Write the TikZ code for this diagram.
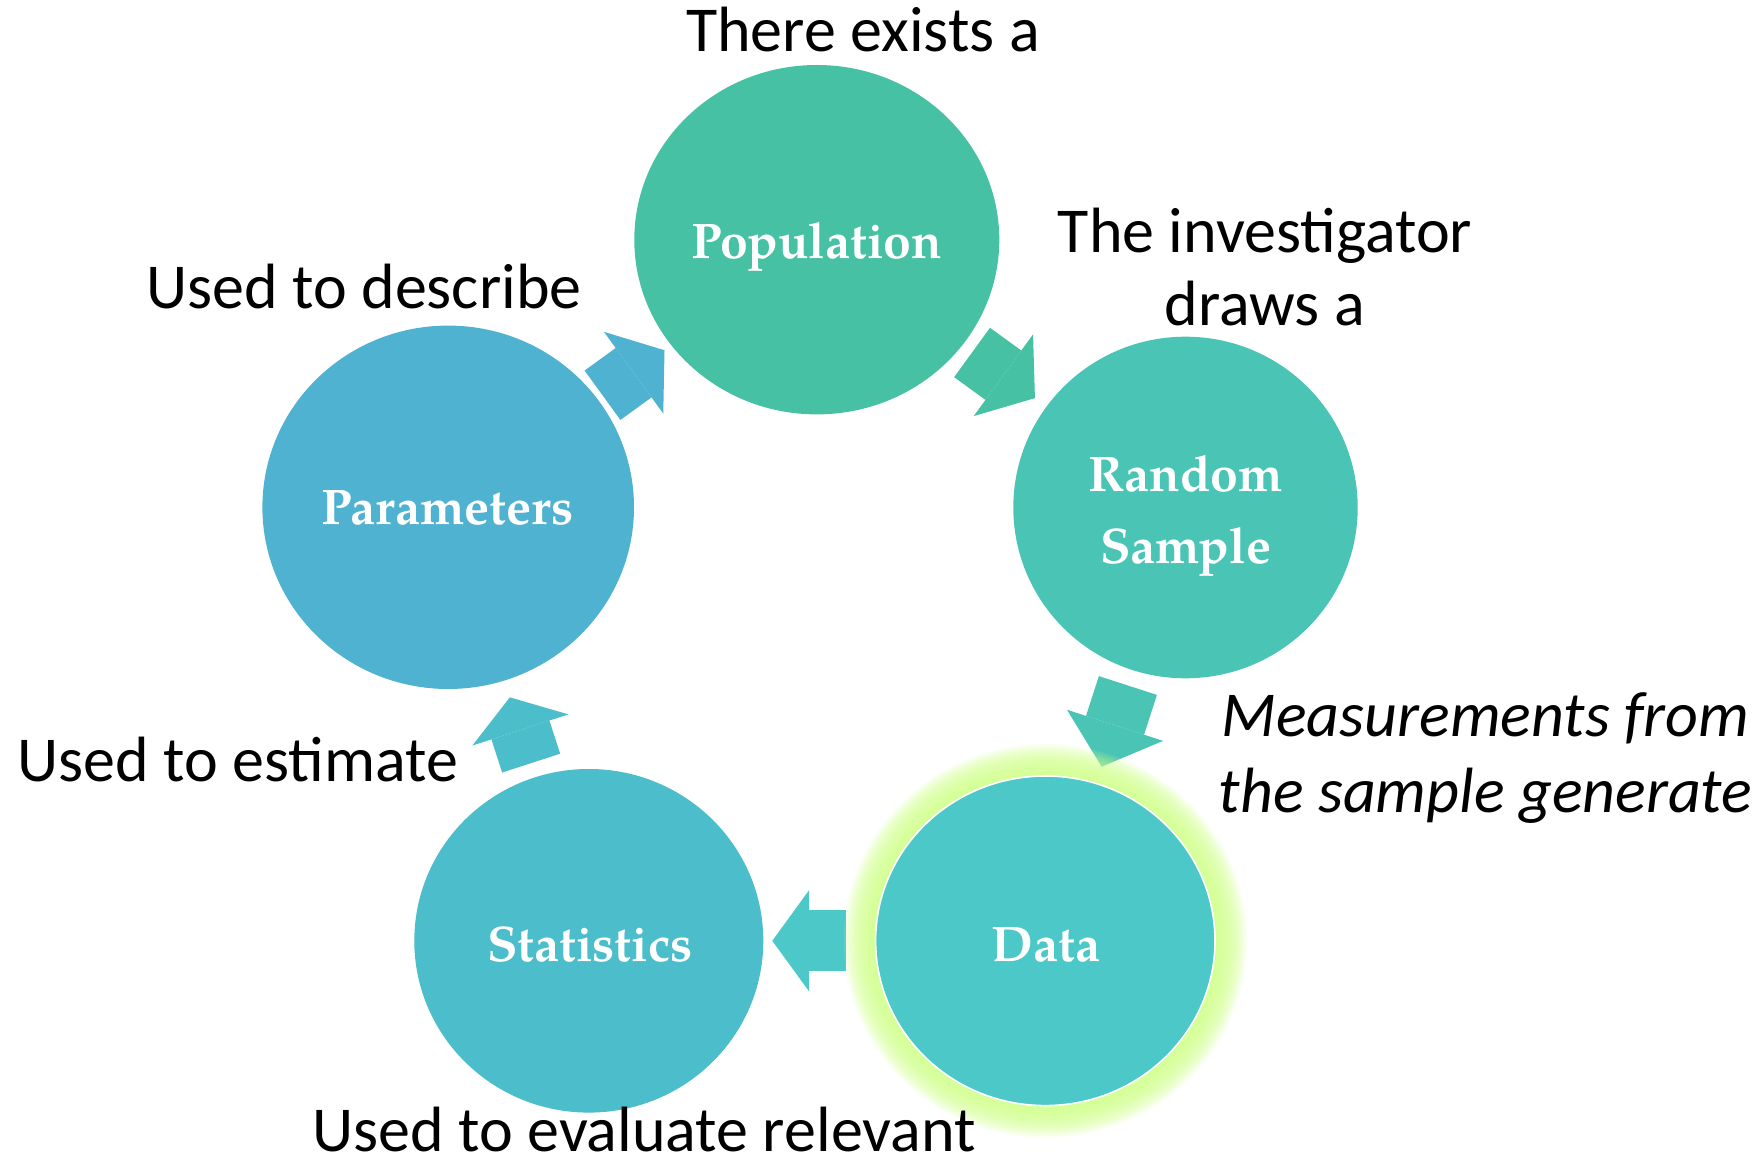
\documentclass[tikz,border=0pt]{standalone}
\usepackage{fontspec}
\setmainfont{Carlito}
\newfontfamily\pal{texgyrepagella}[Extension=.otf,UprightFont=*-regular,BoldFont=*-bold,ItalicFont=*-italic,BoldItalicFont=*-bolditalic]
\usetikzlibrary{shapes.geometric,arrows.meta}
\pgfdeclarelayer{bglayer}
\pgfdeclarelayer{arrowlayer}
\pgfdeclarelayer{glowlayer}
\pgfsetlayers{bglayer,arrowlayer,glowlayer,main}
\definecolor{popc}{RGB}{71,193,163}
\definecolor{rsc}{RGB}{73,196,181}
\definecolor{datac}{RGB}{75,200,199}
\definecolor{statc}{RGB}{76,189,202}
\definecolor{parc}{RGB}{79,178,208}
\definecolor{glowc}{RGB}{212,255,140}
\begin{document}
\begin{tikzpicture}[x=0.5pt,y=-0.5pt,
  bubble/.style={ellipse, inner sep=0pt, outer sep=0pt},
  inlabel/.style={anchor=base, text=white, inner sep=0pt, font=\pal\bfseries\fontsize{25}{30}\selectfont},
  outlabel/.style={anchor=base, text=black, inner sep=0pt, font=\fontsize{32}{38}\selectfont},
  italabel/.style={outlabel, font=\itshape\fontsize{32}{38}\selectfont},
  blk/.style n args={4}{draw=#1, line width=30.5pt, -{Triangle[length=#2,width=50.5pt,line width=0pt]}, shorten <=#3, shorten >=#4}
]
\useasboundingbox (0,0) rectangle (1763,1160);
\begin{pgfonlayer}{bglayer}
\fill[white] (0,0) rectangle (1763,1160);
\end{pgfonlayer}

% circles
\node[bubble, fill=popc, minimum width=182.5pt, minimum height=174.7pt] (pop) at (816.8,239.7) {};
\node[bubble, fill=rsc, minimum width=172.2pt, minimum height=170.8pt] (rs) at (1185.5,507.5) {};
\node[bubble, fill=parc, minimum width=185.8pt, minimum height=181.7pt] (par) at (448.2,507.3) {};
\node[bubble, fill=statc, minimum width=174.5pt, minimum height=171.8pt] (stat) at (588.8,940.8) {};
\node[bubble, fill=datac, draw=white, line width=0.8pt, minimum width=169.7pt, minimum height=164.8pt] (dat) at (1045.3,940.8) {};

% block arrows
\begin{pgfonlayer}{arrowlayer}
\draw[blk={popc}{19.5pt}{95.95pt}{93.05pt}] (pop.center) -- (rs.center);
\draw[blk={rsc}{21.75pt}{93.55pt}{91.5pt}] (rs.center) -- (dat.center);
\draw[blk={datac}{18.35pt}{99.8pt}{91.75pt}] (dat.center) -- (stat.center);
\draw[blk={statc}{17.15pt}{93.4pt}{99.9pt}] (stat.center) -- (par.center);
\draw[blk={parc}{19.1pt}{95.35pt}{94.1pt}] (par.center) -- (pop.center);
\end{pgfonlayer}

% glow round Data
\begin{pgfonlayer}{glowlayer}
\foreach \k in {0,...,19} {
  \fill[glowc, fill opacity=0.1] (dat.center) ellipse [x radius={(201.7-1.6*\k)*0.5pt}, y radius={(196.8-1.6*\k)*0.5pt}];
}
\end{pgfonlayer}

% labels in circles
\node[inlabel] (popt) at (816.7,258.3) {Population};
\node[inlabel] (rst1) at (1185.5,491.7) {Random};
\node[inlabel] (rst2) at (1185.5,563.3) {Sample};
\node[inlabel] (part) at (447.8,525) {Parameters};
\node[inlabel] (statt) at (590,961.7) {Statistics};
\node[inlabel] (datt) at (1045.8,961.7) {Data};

% outside labels
\node[outlabel] (t1) at (863,51.7) {There exists a};
\node[outlabel] (t2a) at (1265,252.3) {The investigator};
\node[outlabel] (t2b) at (1265,325.7) {draws a};
\node[outlabel] (t3) at (364,309) {Used to describe};
\node[italabel] (t4a) at (1485.5,736.5) {Measurements from};
\node[italabel] (t4b) at (1485.5,812) {the sample generate};
\node[outlabel] (t5) at (237.6,781.5) {Used to estimate};
\node[outlabel] (t6) at (644,1151) {Used to evaluate relevant};
\end{tikzpicture}
\end{document}
